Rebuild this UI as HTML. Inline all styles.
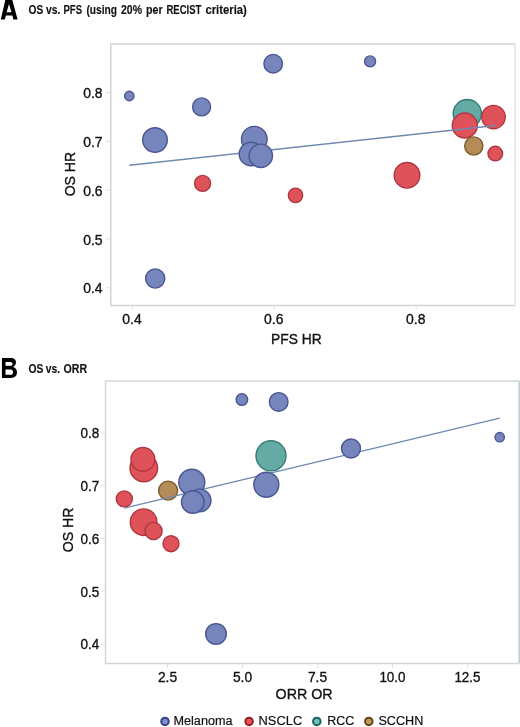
<!DOCTYPE html>
<html><head><meta charset="utf-8"><style>
html,body{margin:0;padding:0;background:#fff;width:520px;height:727px;overflow:hidden}
svg{display:block;filter:blur(0.3px)}
text{font-family:"Liberation Sans",sans-serif;fill:#111;stroke:#111;stroke-width:0.35px}
</style></head><body>
<svg width="520" height="727" viewBox="0 0 520 727">
<rect width="520" height="727" fill="#fff"/>
<g opacity="0.999">
<!-- Panel A -->
<path fill="#000" fill-rule="evenodd" d="M0.8,19.6 L5.55,-1 L12.05,-1 L17.6,19.6 L13.4,19.6 L12.35,15.4 L5.85,15.4 L4.85,19.6 Z M6.65,12.3 L11.45,12.3 L9.0,3.9 Z"/>
<text x="28.50" y="13.9" font-size="12.8" font-weight="bold" style="stroke-width:0.15px" textLength="14.80" lengthAdjust="spacingAndGlyphs" fill="#000">OS</text>
<text x="46.00" y="13.9" font-size="12.8" font-weight="bold" style="stroke-width:0.15px" textLength="14.40" lengthAdjust="spacingAndGlyphs" fill="#000">vs.</text>
<text x="63.50" y="13.9" font-size="12.8" font-weight="bold" style="stroke-width:0.15px" textLength="18.50" lengthAdjust="spacingAndGlyphs" fill="#000">PFS</text>
<text x="86.40" y="13.9" font-size="12.8" font-weight="bold" style="stroke-width:0.15px" textLength="30.60" lengthAdjust="spacingAndGlyphs" fill="#000">(using</text>
<text x="121.00" y="13.9" font-size="12.8" font-weight="bold" style="stroke-width:0.15px" textLength="21.00" lengthAdjust="spacingAndGlyphs" fill="#000">20%</text>
<text x="146.00" y="13.9" font-size="12.8" font-weight="bold" style="stroke-width:0.15px" textLength="16.65" lengthAdjust="spacingAndGlyphs" fill="#000">per</text>
<text x="166.40" y="13.9" font-size="12.8" font-weight="bold" style="stroke-width:0.15px" textLength="35.00" lengthAdjust="spacingAndGlyphs" fill="#000">RECIST</text>
<text x="205.40" y="13.9" font-size="12.8" font-weight="bold" style="stroke-width:0.15px" textLength="41.50" lengthAdjust="spacingAndGlyphs" fill="#000">criteria)</text>
<g fill="none" stroke="#d4d4d4" stroke-width="1.5">
<path d="M515 44 H110.75 V305.5 H515"/>
</g>
<line x1="515" y1="44" x2="515" y2="305.5" stroke="#e2e2e2" stroke-width="1.5"/>
<g stroke="#e0e0e0" stroke-width="1">
<line x1="106" y1="92.5" x2="110" y2="92.5"/>
<line x1="106" y1="141.3" x2="110" y2="141.3"/>
<line x1="106" y1="190.1" x2="110" y2="190.1"/>
<line x1="106" y1="238.9" x2="110" y2="238.9"/>
<line x1="106" y1="287.8" x2="110" y2="287.8"/>
<line x1="132.5" y1="306" x2="132.5" y2="309.5"/>
<line x1="274.2" y1="306" x2="274.2" y2="309.5"/>
<line x1="416.2" y1="306" x2="416.2" y2="309.5"/>
</g>
<text x="102.6" y="98.10" text-anchor="end" font-size="14.6" textLength="19.4" lengthAdjust="spacingAndGlyphs">0.8</text>
<text x="102.6" y="146.90" text-anchor="end" font-size="14.6" textLength="19.4" lengthAdjust="spacingAndGlyphs">0.7</text>
<text x="102.6" y="195.70" text-anchor="end" font-size="14.6" textLength="19.4" lengthAdjust="spacingAndGlyphs">0.6</text>
<text x="102.6" y="244.50" text-anchor="end" font-size="14.6" textLength="19.4" lengthAdjust="spacingAndGlyphs">0.5</text>
<text x="102.6" y="293.40" text-anchor="end" font-size="14.6" textLength="19.4" lengthAdjust="spacingAndGlyphs">0.4</text>
<text x="132.0" y="324.3" text-anchor="middle" font-size="14.6" textLength="19.4" lengthAdjust="spacingAndGlyphs">0.4</text>
<text x="273.7" y="324.3" text-anchor="middle" font-size="14.6" textLength="19.4" lengthAdjust="spacingAndGlyphs">0.6</text>
<text x="415.7" y="324.3" text-anchor="middle" font-size="14.6" textLength="19.4" lengthAdjust="spacingAndGlyphs">0.8</text>
<text x="271" y="344.0" font-size="14.6" textLength="50.6" lengthAdjust="spacingAndGlyphs">PFS HR</text>
<text transform="translate(75,196.3) rotate(-90)" x="0" y="0" font-size="14.4" textLength="44.4" lengthAdjust="spacingAndGlyphs">OS HR</text>
<circle cx="467.3" cy="113.6" r="14.10" fill="#64aaa5" stroke="#347d76" stroke-width="1.4"/>
<circle cx="407.0" cy="175.3" r="12.80" fill="#e05259" stroke="#ae3740" stroke-width="1.4"/>
<circle cx="464.8" cy="125.5" r="12.50" fill="#e05259" stroke="#ae3740" stroke-width="1.4"/>
<circle cx="493.5" cy="117.1" r="11.70" fill="#e05259" stroke="#ae3740" stroke-width="1.4"/>
<circle cx="473.8" cy="146.0" r="9.10" fill="#b58c57" stroke="#7d5c30" stroke-width="1.4"/>
<circle cx="202.6" cy="183.4" r="8.00" fill="#e05259" stroke="#ae3740" stroke-width="1.4"/>
<circle cx="495.3" cy="153.6" r="7.30" fill="#e05259" stroke="#ae3740" stroke-width="1.4"/>
<circle cx="295.5" cy="195.3" r="7.20" fill="#e05259" stroke="#ae3740" stroke-width="1.4"/>
<line x1="129.3" y1="165.2" x2="495.5" y2="125.5" stroke="#7089b0" stroke-width="1.4"/>
<circle cx="254.3" cy="139.2" r="12.80" fill="#7686bc" stroke="#4a5692" stroke-width="1.4"/>
<circle cx="155.0" cy="140.0" r="12.30" fill="#7686bc" stroke="#4a5692" stroke-width="1.4"/>
<circle cx="251.0" cy="154.0" r="11.80" fill="#7686bc" stroke="#4a5692" stroke-width="1.4"/>
<circle cx="260.8" cy="155.8" r="11.70" fill="#7686bc" stroke="#4a5692" stroke-width="1.4"/>
<circle cx="155.2" cy="278.5" r="9.60" fill="#7686bc" stroke="#4a5692" stroke-width="1.4"/>
<circle cx="273.2" cy="63.7" r="9.30" fill="#7686bc" stroke="#4a5692" stroke-width="1.4"/>
<circle cx="201.6" cy="106.9" r="9.00" fill="#7686bc" stroke="#4a5692" stroke-width="1.4"/>
<circle cx="370.1" cy="61.4" r="5.50" fill="#7686bc" stroke="#4a5692" stroke-width="1.4"/>
<circle cx="129.3" cy="96.0" r="4.70" fill="#7686bc" stroke="#4a5692" stroke-width="1.4"/>
<!-- Panel B -->
<path fill="#000" fill-rule="evenodd" transform="translate(0,356)" d="M1.9,1.9 H10.5 C14.5,1.9 16,3.8 16,6.3 C16,8.6 14.8,10 13.2,10.9 C15.6,11.7 17,13.4 17,16.2 C17,19.8 14.6,21.9 10.8,21.9 H1.9 Z M5.5,6.0 H10.2 C11.8,6.0 12.5,6.8 12.5,7.9 C12.5,9.0 11.8,9.7 10.2,9.7 H5.5 Z M5.5,13.6 H10.6 C12.2,13.6 13.0,14.6 13.0,16.2 C13.0,17.8 12.2,18.8 10.6,18.8 H5.5 Z"/>
<text x="28.60" y="372.5" font-size="12.8" font-weight="bold" style="stroke-width:0.15px" textLength="14.90" lengthAdjust="spacingAndGlyphs" fill="#000">OS</text>
<text x="45.70" y="372.5" font-size="12.8" font-weight="bold" style="stroke-width:0.15px" textLength="14.30" lengthAdjust="spacingAndGlyphs" fill="#000">vs.</text>
<text x="63.50" y="372.5" font-size="12.8" font-weight="bold" style="stroke-width:0.15px" textLength="23.60" lengthAdjust="spacingAndGlyphs" fill="#000">ORR</text>
<g fill="none" stroke="#d4d4d4" stroke-width="1.5">
<path d="M519 381 H105.5 V663.5 H519" stroke="#d2d8d8"/>
</g>
<line x1="519.2" y1="381" x2="519.2" y2="663.5" stroke="#c4d0d0" stroke-width="1.6"/>
<g stroke="#e0e0e0" stroke-width="1">
<line x1="101" y1="433.0" x2="105" y2="433.0"/>
<line x1="101" y1="485.75" x2="105" y2="485.75"/>
<line x1="101" y1="538.5" x2="105" y2="538.5"/>
<line x1="101" y1="591.25" x2="105" y2="591.25"/>
<line x1="101" y1="644.0" x2="105" y2="644.0"/>
<line x1="167.5" y1="664" x2="167.5" y2="668"/>
<line x1="242.5" y1="664" x2="242.5" y2="668"/>
<line x1="317.5" y1="664" x2="317.5" y2="668"/>
<line x1="392.5" y1="664" x2="392.5" y2="668"/>
<line x1="467.5" y1="664" x2="467.5" y2="668"/>
</g>
<text x="99.4" y="438.30" text-anchor="end" font-size="14.6" textLength="18.8" lengthAdjust="spacingAndGlyphs">0.8</text>
<text x="99.4" y="491.05" text-anchor="end" font-size="14.6" textLength="18.8" lengthAdjust="spacingAndGlyphs">0.7</text>
<text x="99.4" y="543.80" text-anchor="end" font-size="14.6" textLength="18.8" lengthAdjust="spacingAndGlyphs">0.6</text>
<text x="99.4" y="596.55" text-anchor="end" font-size="14.6" textLength="18.8" lengthAdjust="spacingAndGlyphs">0.5</text>
<text x="99.4" y="649.30" text-anchor="end" font-size="14.6" textLength="18.8" lengthAdjust="spacingAndGlyphs">0.4</text>
<text x="167.5" y="681.8" text-anchor="middle" font-size="14.8" textLength="19.2" lengthAdjust="spacingAndGlyphs">2.5</text>
<text x="242.5" y="681.8" text-anchor="middle" font-size="14.8" textLength="19.2" lengthAdjust="spacingAndGlyphs">5.0</text>
<text x="317.5" y="681.8" text-anchor="middle" font-size="14.8" textLength="19.2" lengthAdjust="spacingAndGlyphs">7.5</text>
<text x="392.5" y="681.8" text-anchor="middle" font-size="14.8" textLength="26.2" lengthAdjust="spacingAndGlyphs">10.0</text>
<text x="467.5" y="681.8" text-anchor="middle" font-size="14.8" textLength="26.2" lengthAdjust="spacingAndGlyphs">12.5</text>
<text x="275.6" y="698.8" font-size="15" textLength="57" lengthAdjust="spacingAndGlyphs">ORR OR</text>
<text transform="translate(73.2,552.3) rotate(-90)" x="0" y="0" font-size="14.6" textLength="44.6" lengthAdjust="spacingAndGlyphs">OS HR</text>
<circle cx="271.0" cy="455.8" r="15.00" fill="#64aaa5" stroke="#347d76" stroke-width="1.4"/>
<circle cx="143.8" cy="468.0" r="13.80" fill="#e05259" stroke="#ae3740" stroke-width="1.4"/>
<circle cx="143.6" cy="522.2" r="13.30" fill="#e05259" stroke="#ae3740" stroke-width="1.4"/>
<circle cx="142.9" cy="459.4" r="11.90" fill="#e05259" stroke="#ae3740" stroke-width="1.4"/>
<circle cx="168.1" cy="490.6" r="9.50" fill="#b58c57" stroke="#7d5c30" stroke-width="1.4"/>
<circle cx="153.5" cy="531.0" r="8.60" fill="#e05259" stroke="#ae3740" stroke-width="1.4"/>
<circle cx="171.0" cy="543.7" r="8.00" fill="#e05259" stroke="#ae3740" stroke-width="1.4"/>
<circle cx="124.3" cy="498.9" r="8.00" fill="#e05259" stroke="#ae3740" stroke-width="1.4"/>
<line x1="124.3" y1="508.1" x2="499.7" y2="418.1" stroke="#7089b0" stroke-width="1.4"/>
<circle cx="191.8" cy="482.3" r="13.00" fill="#7686bc" stroke="#4a5692" stroke-width="1.4"/>
<circle cx="266.3" cy="484.7" r="12.50" fill="#7686bc" stroke="#4a5692" stroke-width="1.4"/>
<circle cx="199.6" cy="500.5" r="11.35" fill="#7686bc" stroke="#4a5692" stroke-width="1.4"/>
<circle cx="192.8" cy="502.0" r="11.30" fill="#7686bc" stroke="#4a5692" stroke-width="1.4"/>
<circle cx="216.0" cy="633.9" r="10.30" fill="#7686bc" stroke="#4a5692" stroke-width="1.4"/>
<circle cx="351.0" cy="448.5" r="9.50" fill="#7686bc" stroke="#4a5692" stroke-width="1.4"/>
<circle cx="278.7" cy="401.9" r="9.30" fill="#7686bc" stroke="#4a5692" stroke-width="1.4"/>
<circle cx="241.9" cy="399.6" r="5.80" fill="#7686bc" stroke="#4a5692" stroke-width="1.4"/>
<circle cx="499.7" cy="437.2" r="4.70" fill="#7686bc" stroke="#4a5692" stroke-width="1.4"/>
<!-- Legend -->
<circle cx="165" cy="721.4" r="3.75" fill="#7d90d2" stroke="#38437f" stroke-width="2"/>
<text x="173.5" y="725.2" font-size="12.9" style="stroke-width:0.2px" textLength="59" lengthAdjust="spacingAndGlyphs">Melanoma</text>
<circle cx="249.1" cy="721.4" r="3.75" fill="#ee5058" stroke="#8e2227" stroke-width="2"/>
<text x="258.5" y="725.2" font-size="12.9" style="stroke-width:0.2px" textLength="43.8" lengthAdjust="spacingAndGlyphs">NSCLC</text>
<circle cx="316.8" cy="721.4" r="3.75" fill="#6cc0b8" stroke="#1c625c" stroke-width="2"/>
<text x="327.2" y="725.2" font-size="12.9" style="stroke-width:0.2px" textLength="27" lengthAdjust="spacingAndGlyphs">RCC</text>
<circle cx="368.8" cy="721.4" r="3.75" fill="#c09660" stroke="#64461c" stroke-width="2"/>
<text x="378.4" y="725.2" font-size="12.9" style="stroke-width:0.2px" textLength="45" lengthAdjust="spacingAndGlyphs">SCCHN</text>
</g>
</svg>
</body></html>
